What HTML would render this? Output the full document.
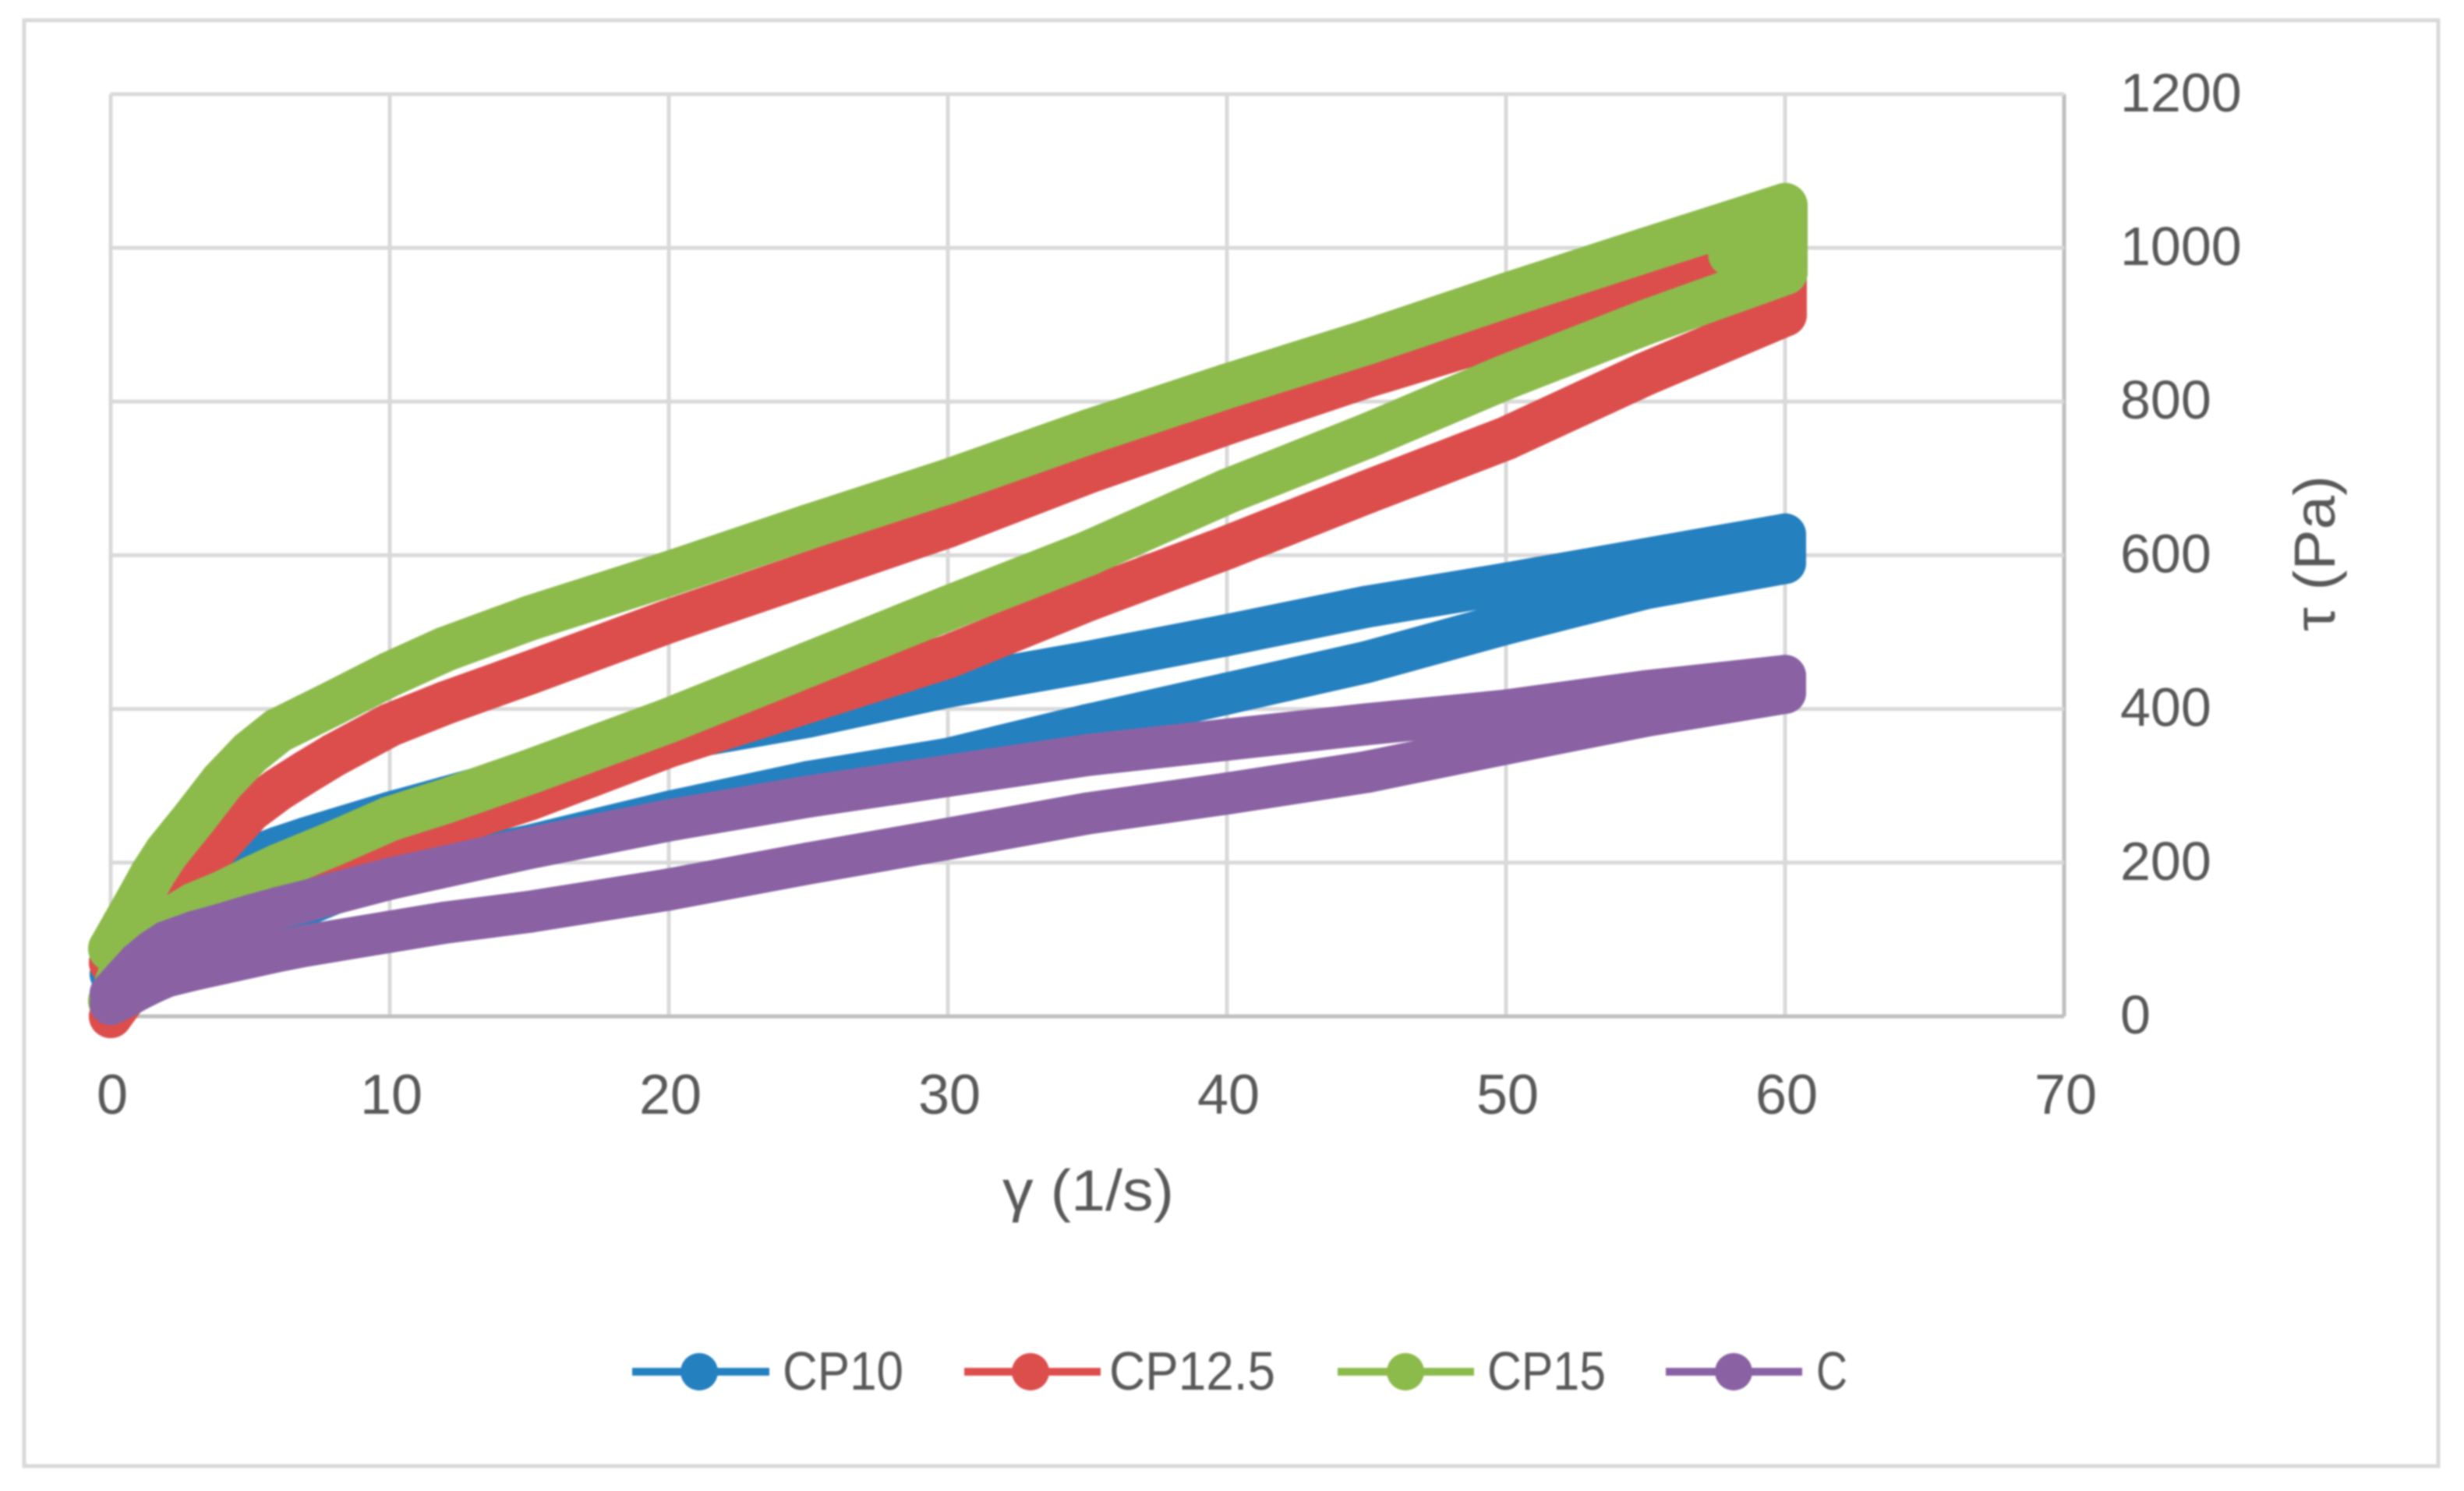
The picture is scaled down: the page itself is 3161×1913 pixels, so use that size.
<!DOCTYPE html>
<html lang="en">
<head>
<meta charset="utf-8">
<title>Shear stress vs shear rate</title>
<style>
html,body{margin:0;padding:0;background:#fff;width:3161px;height:1913px;overflow:hidden}
svg{display:block;filter:blur(1.1px)}
text{font-family:"Liberation Sans",sans-serif;fill:#595959}
</style>
</head>
<body>
<svg id="chart" xmlns="http://www.w3.org/2000/svg" width="3161" height="1913" viewBox="0 0 3161 1913">
  <rect x="0" y="0" width="3161" height="1913" fill="#fff"/>
  <rect x="31" y="26" width="3097" height="1855" fill="#fff" stroke="#d9d9d9" stroke-width="5"/>
  <g id="grid"></g>
  <g id="xticks"></g>
  <g id="yticks"></g>
  <g id="series"></g>
  <text x="1286" y="1553" font-size="74" textLength="220" lengthAdjust="spacingAndGlyphs">γ (1/s)</text>
  <text transform="translate(2995,810) rotate(-90)" font-size="74" textLength="200" lengthAdjust="spacingAndGlyphs">τ (Pa)</text>
  <g>
    <g>
      <line x1="811" x2="987" y1="1760" y2="1760" stroke="#2580c0" stroke-width="10"/>
      <circle cx="897" cy="1760" r="24" fill="#2580c0"/>
      <text x="1004" y="1783" font-size="70" textLength="155" lengthAdjust="spacingAndGlyphs">CP10</text>
    </g>
    <g>
      <line x1="1237" x2="1412" y1="1760" y2="1760" stroke="#dc4e4c" stroke-width="10"/>
      <circle cx="1322" cy="1760" r="24" fill="#dc4e4c"/>
      <text x="1423" y="1783" font-size="70" textLength="213" lengthAdjust="spacingAndGlyphs">CP12.5</text>
    </g>
    <g>
      <line x1="1716" x2="1891" y1="1760" y2="1760" stroke="#8cbb4c" stroke-width="10"/>
      <circle cx="1803" cy="1760" r="24" fill="#8cbb4c"/>
      <text x="1908" y="1783" font-size="70" textLength="152" lengthAdjust="spacingAndGlyphs">CP15</text>
    </g>
    <g>
      <line x1="2137" x2="2312" y1="1760" y2="1760" stroke="#8a62a4" stroke-width="10"/>
      <circle cx="2224" cy="1760" r="24" fill="#8a62a4"/>
      <text x="2330" y="1783" font-size="70" textLength="40" lengthAdjust="spacingAndGlyphs">C</text>
    </g>
  </g>
</svg>
<script>
const xTickLabels = [0, 10, 20, 30, 40, 50, 60, 70];
const yTickLabels = [0, 200, 400, 600, 800, 1000, 1200];
const gammaValues = [0, 0.5, 1, 1.5, 2, 3, 4, 5, 6, 7, 8, 10, 12, 15, 20, 25, 30, 35, 40, 45, 50, 55, 60];

const cp10Upper = [55, 80, 100, 118, 135, 170, 195, 206, 220, 232, 243, 265, 285, 315, 358, 390, 429, 461, 496, 533, 563, 595, 627];
const cp10Lower = [20, 35, 50, 60, 70, 88, 102, 118, 130, 145, 160, 185, 200, 222, 266, 305, 335, 379, 420, 461, 511, 557, 590];
const cp125Upper = [70, 90, 110, 130, 150, 188, 228, 268, 295, 318, 340, 379, 408, 447, 514, 576, 638, 708, 772, 833, 888, 945, 1000];
const cp125Lower = [0, 25, 50, 65, 78, 100, 118, 135, 152, 170, 190, 228, 248, 283, 352, 410, 468, 542, 610, 682, 752, 836, 913];
const cp15Upper = [88, 120, 152, 185, 213, 258, 305, 343, 372, 390, 408, 445, 478, 518, 576, 637, 696, 760, 820, 877, 938, 997, 1055];
const cp15Lower = [20, 70, 95, 110, 123, 145, 160, 178, 195, 210, 225, 257, 280, 318, 385, 458, 531, 602, 683, 755, 832, 903, 968];
const cUpper = [30, 50, 70, 85, 97, 110, 120, 131, 141, 150, 160, 179, 195, 219, 255, 286, 313, 340, 360, 380, 398, 423, 443];
const cLower = [16, 25, 35, 44, 52, 61, 69, 77, 85, 92, 98, 110, 122, 136, 165, 199, 231, 264, 290, 318, 355, 391, 421];
const cp15DwellGamma = [58, 59, 60];
const cp15Dwell = [991, 1003, 1015];

const NS = 'http://www.w3.org/2000/svg';

function xScale(v) { return 142 + v * 35.8; }
function yScale(v) { return 1304 - v * 0.986; }

function make(tag, attrs, parent) {
  const el = document.createElementNS(NS, tag);
  for (const k in attrs) el.setAttribute(k, attrs[k]);
  parent.appendChild(el);
  return el;
}

const gridGroup = document.getElementById('grid');
xTickLabels.forEach(function (t) {
  const line = make('line', { x1: xScale(t), x2: xScale(t), y1: yScale(1200), y2: yScale(0), stroke: t === 70 ? '#bfbfbf' : '#d9d9d9', 'stroke-width': 5 }, gridGroup);
  
  
});
yTickLabels.forEach(function (t) {
  const line = make('line', { x1: xScale(0), x2: xScale(70), y1: yScale(t), y2: yScale(t), stroke: t === 0 ? '#bfbfbf' : '#d9d9d9', 'stroke-width': 5 }, gridGroup);
  
  
});

const xTickGroup = document.getElementById('xticks');
xTickLabels.forEach(function (t) {
  const label = make('text', { x: xScale(t) + 2, y: 1429, 'font-size': 72, 'text-anchor': 'middle' }, xTickGroup);
  label.textContent = String(t);
  
  
});

const yTickGroup = document.getElementById('yticks');
yTickLabels.forEach(function (t) {
  const label = make('text', { x: 2720, y: yScale(t) + 22, 'font-size': 70 }, yTickGroup);
  label.textContent = String(t);
  
  
});

const seriesGroup = document.getElementById('series');

function drawTrace(group, seriesName, color, width, pts) {
  const d = pts.map(function (p, i) { return (i ? 'L' : 'M') + p[0].toFixed(1) + ' ' + p[1].toFixed(1); }).join(' ');
  const path = make('path', { d: d, fill: 'none', stroke: color, 'stroke-width': width, 'stroke-linejoin': 'round', 'stroke-linecap': 'round' }, group);
  
  
  pts.forEach(function (p) {
    const dot = make('circle', { cx: p[0], cy: p[1], r: width / 2, fill: color }, group);
    
    
  });
}

function drawSeries(seriesName, color, width, upper, lower) {
  const group = make('g', {}, seriesGroup);
  
  
  const pts = [];
  gammaValues.forEach(function (g, i) { pts.push([xScale(g), yScale(lower[i])]); });
  for (let i = gammaValues.length - 1; i >= 0; i--) { pts.push([xScale(gammaValues[i]), yScale(upper[i])]); }
  drawTrace(group, seriesName, color, width, pts);
  return group;
}

drawSeries('cp10', '#2580c0', 54, cp10Upper, cp10Lower);
drawSeries('cp12-5', '#dc4e4c', 56, cp125Upper, cp125Lower);
const cp15Group = drawSeries('cp15', '#8cbb4c', 58, cp15Upper, cp15Lower);
drawTrace(cp15Group, 'cp15-dwell', '#8cbb4c', 54, cp15DwellGamma.map(function (g, i) { return [xScale(g), yScale(cp15Dwell[i])]; }));
drawSeries('c', '#8a62a4', 54, cUpper, cLower);
</script>
</body>
</html>
